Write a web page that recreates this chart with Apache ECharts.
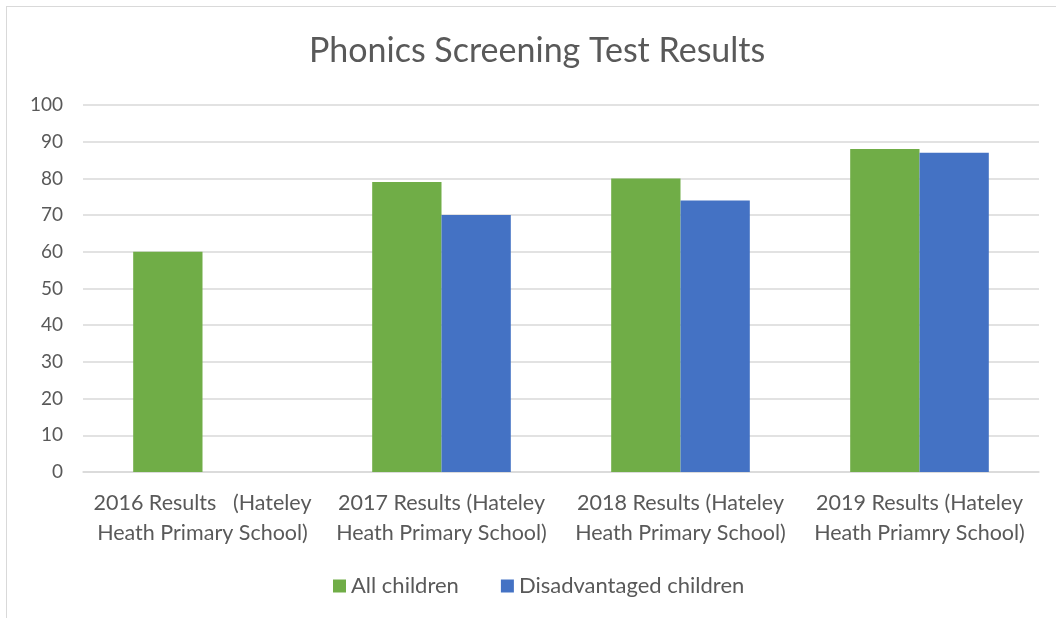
<!DOCTYPE html>
<html>
<head>
<meta charset="utf-8">
<script src="https://cdn.jsdelivr.net/npm/echarts@6/dist/echarts.min.js"></script>
<style>
  html, body { margin: 0; padding: 0; background: #fff; }
  #chart { position: absolute; left: 6px; top: 6px; width: 1050px; height: 612px;
    border-top: 1px solid #d9d9d9; border-left: 1px solid #d9d9d9; box-sizing: border-box; }
</style>
</head>
<body>
<div id="chart"></div>
<script>
// 类目与数据
const categories = [
  '2016 Results   (Hateley\nHeath Primary School)',
  '2017 Results (Hateley\nHeath Primary School)',
  '2018 Results (Hateley\nHeath Primary School)',
  '2019 Results (Hateley\nHeath Priamry School)'
]
const allChildren = [60, 79, 80, 88]
const disadvantaged = [null, 70, 74, 87]
const yTicks = { min: 0, max: 100, interval: 10 }

const fontFamily = 'Lato, "Open Sans", sans-serif'
const textColor = '#595959'

let chart = echarts.init(document.getElementById('chart'))
chart.setOption({
  animation: false,
  title: {
    text: 'Phonics Screening Test Results',
    left: 297,
    top: 22,
    textStyle: { fontFamily: fontFamily, fontSize: 34, fontWeight: 'normal', color: textColor }
  },
  legend: {
    bottom: 16,
    left: 321,
    itemWidth: 13,
    itemHeight: 13,
    itemGap: 42,
    icon: 'rect',
    textStyle: { fontFamily: fontFamily, fontSize: 22, color: textColor }
  },
  grid: { left: 76, right: 17, top: 98, bottom: 146 },
  xAxis: {
    type: 'category',
    data: categories,
    axisLine: { lineStyle: { color: '#d9d9d9', width: 1.5 } },
    axisTick: { show: false },
    axisLabel: { fontFamily: fontFamily, fontSize: 21.5, color: textColor, lineHeight: 30, margin: 16, interval: 0 }
  },
  yAxis: {
    type: 'value',
    min: yTicks.min,
    max: yTicks.max,
    interval: yTicks.interval,
    axisLine: { show: false },
    axisTick: { show: false },
    splitLine: { lineStyle: { color: '#d9d9d9', width: 1.5 } },
    axisLabel: { fontFamily: fontFamily, fontSize: 19, color: textColor, margin: 20 }
  },
  series: [
    {
      name: 'All children',
      type: 'bar',
      data: allChildren,
      barGap: '0%',
      barCategoryGap: '42%',
      itemStyle: { color: '#70ad47' }
    },
    {
      name: 'Disadvantaged children',
      type: 'bar',
      data: disadvantaged,
      itemStyle: { color: '#4472c4' }
    }
  ]
})
</script>
</body>
</html>
